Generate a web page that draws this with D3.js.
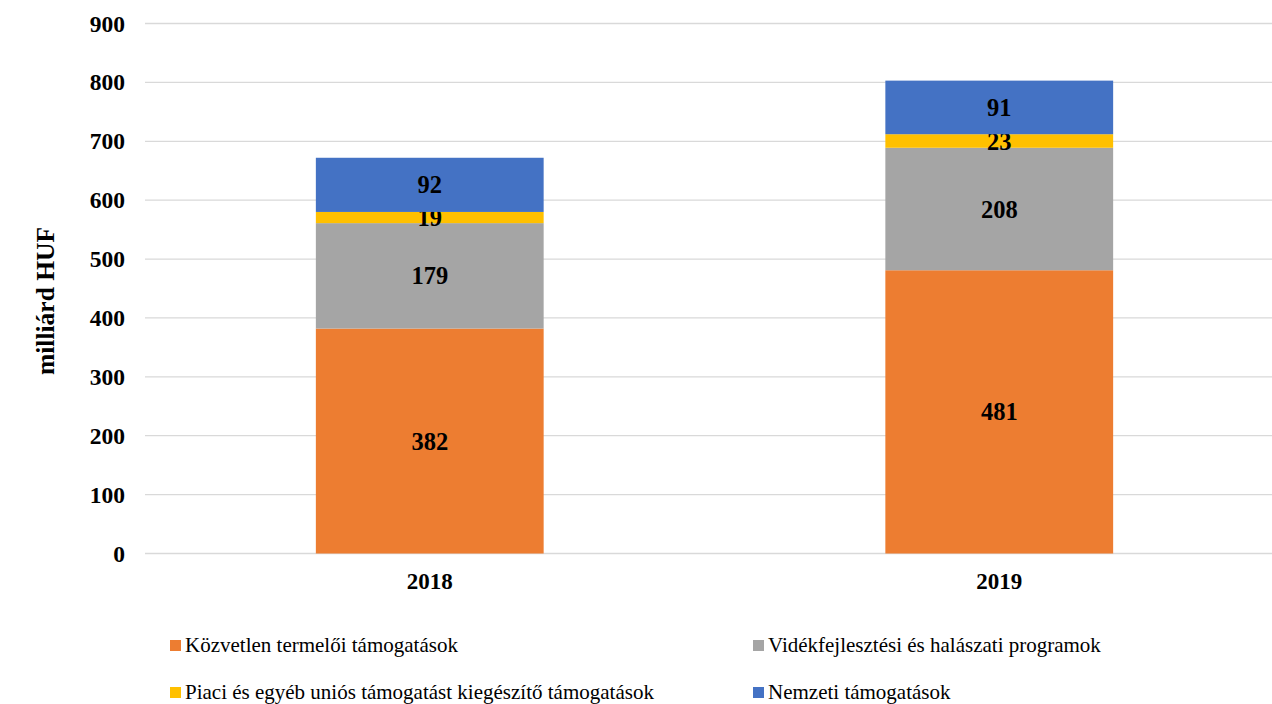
<!DOCTYPE html>
<html>
<head>
<meta charset="utf-8">
<script src="https://cdn.jsdelivr.net/npm/d3@7"></script>
<style>
  body { margin: 0; background: #fff; }
  svg text { font-family: "Liberation Serif", "Tinos", "Times New Roman", Times, "DejaVu Serif", serif; }
</style>
</head>
<body>
<div id="chart"></div>
<script>
const width = 1272;
const height = 704;
const FONT = "'Liberation Serif', Tinos, 'Times New Roman', Times, 'DejaVu Serif', serif";

const years = ["2018", "2019"];
const seriesNames = [
	"Közvetlen termelői támogatások",
	"Vidékfejlesztési és halászati programok",
	"Piaci és egyéb uniós támogatást kiegészítő támogatások",
	"Nemzeti támogatások",
];
const direct = [382, 481];
const rural = [179, 208];
const market = [19, 23];
const national = [92, 91];
const yTicks = [0, 100, 200, 300, 400, 500, 600, 700, 800, 900];

const COLORS = ["#ED7D31", "#A5A5A5", "#FFC000", "#4472C4"];

const seriesValues = [direct, rural, market, national];
const table = years.map((y, i) => {
	const row = { year: y };
	seriesNames.forEach((s, j) => (row[s] = seriesValues[j][i]));
	return row;
});

let svg = d3
	.select("#chart")
	.append("svg")
	.attr("width", width)
	.attr("height", height)
	.style("font-family", FONT);

const x = d3.scaleBand().domain(years).range([145, 1284]).paddingInner(0.6).paddingOuter(0.3);
const y = d3.scaleLinear().domain([0, 900]).range([553.5, 23.5]);

// gridlines
svg
	.selectAll(".grid")
	.data(yTicks)
	.join("line")
	.attr("class", "grid")
	.attr("x1", 145)
	.attr("x2", 1284)
	.attr("y1", (d) => y(d))
	.attr("y2", (d) => y(d))
	.style("stroke", "#D9D9D9")
	.style("stroke-width", 1.3);

// y axis labels
const yAxis = svg
	.append("g")
	.attr("transform", "translate(125,0)")
	.call(d3.axisLeft(y).tickValues(yTicks).tickSize(0).tickPadding(0));
yAxis.attr("font-family", null);
yAxis.select(".domain").remove();
yAxis
	.selectAll("text")
	.attr("font-size", "23.5px")
	.attr("font-weight", "bold")
	.attr("fill", "#000")
	.style("font-family", FONT);

// x axis labels
const xAxis = svg
	.append("g")
	.attr("transform", "translate(0,573)")
	.call(d3.axisBottom(x).tickSize(0).tickPadding(0));
xAxis.attr("font-family", null);
xAxis.select(".domain").remove();
xAxis
	.selectAll("text")
	.attr("font-size", "23px")
	.attr("font-weight", "bold")
	.attr("fill", "#000")
	.style("font-family", FONT);

// stacked bars
const stacked = d3.stack().keys(seriesNames)(table);

const layers = svg
	.selectAll(".layer")
	.data(stacked)
	.join("g")
	.attr("class", "layer")
	.style("fill", (d, i) => COLORS[i]);

layers
	.selectAll("rect")
	.data((d) => d)
	.join("rect")
	.attr("x", (d) => x(d.data.year))
	.attr("width", x.bandwidth())
	.attr("y", (d) => y(d[1]))
	.attr("height", (d) => y(d[0]) - y(d[1]));

layers
	.selectAll("text")
	.data((d) => d)
	.join("text")
	.attr("x", (d) => x(d.data.year) + x.bandwidth() / 2)
	.attr("y", (d) => y((d[0] + d[1]) / 2))
	.attr("dy", "0.35em")
	.attr("text-anchor", "middle")
	.attr("font-size", "24.5px")
	.attr("font-weight", "bold")
	.style("fill", "#000")
	.text((d) => d[1] - d[0]);

// y axis title
svg
	.append("text")
	.attr("transform", "translate(54,301) rotate(-90)")
	.attr("text-anchor", "middle")
	.attr("font-size", "25.5px")
	.attr("font-weight", "bold")
	.text("milliárd HUF");

// legend
const legendPos = [
	[170, 645],
	[753, 645],
	[170, 692],
	[753, 692],
];
const legend = svg
	.selectAll(".legend")
	.data(seriesNames)
	.join("g")
	.attr("class", "legend")
	.attr("transform", (d, i) => "translate(" + legendPos[i][0] + "," + legendPos[i][1] + ")");

legend
	.append("rect")
	.attr("x", 0)
	.attr("y", -5)
	.attr("width", 11)
	.attr("height", 11)
	.style("fill", (d, i) => COLORS[i]);

legend
	.append("text")
	.attr("x", 15)
	.attr("dy", "0.35em")
	.attr("font-size", "21px")
	.text((d) => d);
</script>
</body>
</html>
